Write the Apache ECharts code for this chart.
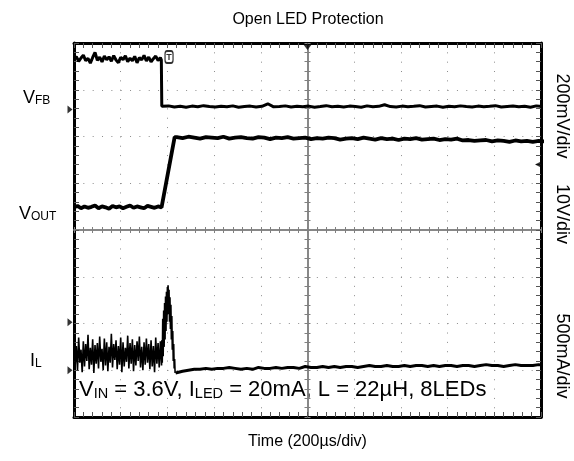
<!DOCTYPE html>
<html><head><meta charset="utf-8">
<script src="https://cdn.jsdelivr.net/npm/echarts@6/dist/echarts.min.js"></script>
<style>html,body{margin:0;padding:0;background:#fff}#c{width:574px;height:461px}</style>
</head><body><div id="c"></div>
<script>
const FONT = 'Liberation Sans, Arial, Helvetica, sans-serif';
// Time in µs, trigger at 0; screen spans 10 div x 200 µs/div
const timeMin = -1000, timeMax = 1000, timeDiv = 200;
// channel scales: units per division and ground-marker position (in divisions from centre)
const vfbPerDiv = 0.2,  vfbGroundDiv = 2.58;    // V
const voutPerDiv = 10,  voutGroundDiv = -1.975; // V
const ilPerDiv = 0.5,   ilGroundDiv = -3.0;     // A

// ---- V_FB (V) ----
const vfbHighStart = -1000, vfbHighStep = 10;
const vfbHigh = [0.214,0.226,0.205,0.220,0.232,0.209,0.218,0.198,0.222,0.244,
                 0.210,0.224,0.203,0.228,0.212,0.225,0.206,0.230,0.211,0.200,
                 0.223,0.213,0.229,0.204,0.219,0.208,0.227,0.199,0.221,0.212,
                 0.231,0.207,0.224,0.203,0.217,0.228,0.209,0.221];
const vfbEdge = [[-626,0.212],[-624,0.013]];
const vfbLowStart = -620, vfbLowStep = 25;
const vfbLow = [0.012,0.015,0.010,0.013,0.009,0.014,0.011,0.016,0.012,0.010,
                0.013,0.011,0.015,0.009,0.012,0.014,0.010,0.013,0.024,0.011,
                0.012,0.015,0.010,0.013,0.011,0.014,0.009,0.012,0.016,0.011,
                0.013,0.010,0.014,0.012,0.009,0.015,0.011,0.013,0.020,0.012,
                0.010,0.014,0.011,0.013,0.016,0.010,0.012,0.014,0.009,0.013,
                0.011,0.015,0.012,0.010,0.014,0.011,0.013,0.016,0.010,0.012,
                0.014,0.011,0.013,0.009,0.015,0.012];

// ---- V_OUT (V) ----
const voutLowStart = -1000, voutLowStep = 15;
const voutLow = [24.6,24.9,24.4,24.8,24.5,24.7,25.0,24.4,24.8,24.6,
                 24.3,24.9,24.6,24.8,24.4,24.7,25.0,24.5,24.8,24.6,
                 24.4,24.9,24.7,24.5,24.8,24.6];
const voutRamp = [[-620,25.0],[-569,39.6]];
const voutHighStart = -560, voutHighStep = 25;
const voutHigh = [39.6,39.4,39.7,39.5,39.3,39.6,39.5,39.4,39.7,39.3,
                  39.5,39.6,39.4,39.3,39.6,39.5,39.2,39.5,39.4,39.6,
                  39.3,39.4,39.5,39.2,39.4,39.3,39.5,39.4,39.1,39.3,
                  39.4,39.2,39.5,39.3,39.1,39.4,39.2,39.3,39.0,39.3,
                  39.2,39.4,39.1,39.2,39.3,39.0,39.2,39.1,39.3,38.9,
                  39.0,38.8,38.9,39.0,38.7,38.9,38.8,38.6,38.9,38.7,
                  38.8,38.6,38.8,38.7];

// ---- I_L (A) ----
const ilRippleStart = -1000, ilRippleStep = 5;
const ilRipple = [0.30,0.05,0.26,0.00,0.35,0.08,0.22,-0.02,0.31,0.04,
                  0.28,0.10,0.38,0.01,0.24,0.06,0.33,-0.03,0.27,0.07,
                  0.29,0.02,0.36,0.09,0.23,0.00,0.34,0.05,0.30,-0.01,
                  0.25,0.08,0.39,0.03,0.28,0.11,0.32,0.01,0.26,0.06,
                  0.35,-0.02,0.30,0.04,0.24,0.09,0.37,0.02,0.29,0.07,
                  0.33,-0.01,0.27,0.05,0.31,0.10,0.36,0.03,0.25,0.00,
                  0.30,0.06,0.34,0.08,0.28,0.01,0.32,0.04,0.26,-0.02,
                  0.35,0.07,0.29,0.03,0.31,0.05];
const ilSpike = [[-624,0.32],[-622,0.08],[-620,0.55],[-618,0.15],[-616,0.64],[-614,0.25],
                 [-612,0.72],[-610,0.33],[-608,0.79],[-606,0.42],[-604,0.84],[-602,0.52],
                 [-600,0.89],[-598,0.62],[-597,0.91],[-595,0.60],[-593,0.86],[-591,0.52],
                 [-589,0.78],[-587,0.44],[-585,0.70],[-583,0.33],[-581,0.58],[-579,0.22],
                 [-577,0.42],[-575,0.10],[-573,0.28],[-571,0.02],[-569,0.12],[-567,-0.03],[-565,-0.03]];
const ilAfterStart = -560, ilAfterStep = 25;
const ilAfter = [-0.03,-0.01,0.00,0.01,0.01,0.02,0.01,0.02,0.02,0.03,
                 0.02,0.01,0.02,0.01,0.03,0.02,0.02,0.03,0.02,0.03,
                 0.03,0.02,0.04,0.03,0.03,0.04,0.03,0.04,0.03,0.04,
                 0.04,0.03,0.04,0.05,0.04,0.04,0.05,0.04,0.04,0.05,
                 0.04,0.05,0.05,0.04,0.05,0.04,0.05,0.05,0.04,0.05,
                 0.05,0.04,0.05,0.06,0.05,0.05,0.04,0.05,0.06,0.05,
                 0.05,0.05,0.06,0.05];

// markers
const triggerTime = 0;
const triggerMarkTime = -593;
const triggerLevelDiv = 1.40;

function seg(start, step, vals){ return vals.map((v,i)=>[start+i*step, v]); }
const vfbData = seg(vfbHighStart,vfbHighStep,vfbHigh).concat(vfbEdge, seg(vfbLowStart,vfbLowStep,vfbLow));
const voutData = seg(voutLowStart,voutLowStep,voutLow).concat(voutRamp, seg(voutHighStart,voutHighStep,voutHigh));
const ilData1 = seg(ilRippleStart,ilRippleStep,ilRipple).concat(ilSpike);
const ilData2 = [ilSpike[ilSpike.length-1]].concat(seg(ilAfterStart,ilAfterStep,ilAfter));

const GRID_DOT = {color:'#8c8c8c', width:1, type:[1, 8.34]};
const BORDER = {color:'#000', width:3};
const TICKC = {color:'#555', width:1};
const CENTER = {color:'#808080', width:1.5};

function borderX(pos, extra){
  return Object.assign({type:'value', min:timeMin, max:timeMax, interval:timeDiv, position:pos,
    axisLine:{show:true, onZero:false, lineStyle:BORDER},
    axisTick:{show:true, inside:true, length:5, lineStyle:TICKC},
    minorTick:{show:true, splitNumber:5, length:5, lineStyle:TICKC},
    axisLabel:{show:false}, splitLine:{show:false}}, extra||{});
}
function centerX(inside){
  return {type:'value', min:timeMin, max:timeMax, interval:timeDiv, position:'bottom',
    axisLine:{show:true, onZero:true, onZeroAxisIndex:0, lineStyle:CENTER},
    axisTick:{show:true, inside:inside, length:3, lineStyle:{color:'#808080'}},
    minorTick:{show:true, splitNumber:5, length:3, lineStyle:{color:'#808080'}},
    axisLabel:{show:false}, splitLine:{show:false}};
}
function borderY(pos, extra){
  return Object.assign({type:'value', min:-4, max:4, interval:1, position:pos,
    axisLine:{show:true, onZero:false, lineStyle:BORDER},
    axisTick:{show:true, inside:true, length:5, lineStyle:TICKC},
    minorTick:{show:true, splitNumber:5, length:5, lineStyle:TICKC},
    axisLabel:{show:false}, splitLine:{show:false}}, extra||{});
}
function centerY(inside){
  return {type:'value', min:-4, max:4, interval:1, position:'left',
    axisLine:{show:true, onZero:true, onZeroAxisIndex:0, lineStyle:CENTER},
    axisTick:{show:true, inside:inside, length:3, lineStyle:{color:'#808080'}},
    minorTick:{show:true, splitNumber:5, length:3, lineStyle:{color:'#808080'}},
    axisLabel:{show:false}, splitLine:{show:false}};
}
function hiddenY(perDiv, groundDiv){
  return {type:'value', show:false, min:(-4-groundDiv)*perDiv, max:(4-groundDiv)*perDiv,
    axisLine:{onZero:false}, splitLine:{show:false}};
}

const rich = {
  m:{fontSize:18, fontFamily:FONT, color:'#000', lineHeight:20, verticalAlign:'bottom'},
  s:{fontSize:12, fontFamily:FONT, color:'#000', lineHeight:13, verticalAlign:'bottom'},
  am:{fontSize:22, fontFamily:FONT, color:'#000', lineHeight:24, verticalAlign:'bottom'},
  as:{fontSize:14.5, fontFamily:FONT, color:'#000', lineHeight:16, verticalAlign:'bottom'}
};

const option = {
  animation:false,
  backgroundColor:'#fff',
  title:{text:'Open LED Protection', left:308, top:12, textAlign:'center', padding:0,
    textStyle:{fontSize:16, fontWeight:'normal', color:'#000', fontFamily:FONT}},
  grid:{left:74, right:33, top:43, bottom:44, containLabel:false},
  xAxis:[
    borderX('bottom', {splitLine:{show:true, lineStyle:GRID_DOT},
      name:'Time (200µs/div)', nameLocation:'middle', nameGap:17,
      nameTextStyle:{fontSize:16, color:'#000', fontFamily:FONT}}),
    borderX('top'),
    centerX(true),
    centerX(false)
  ],
  yAxis:[
    borderY('left', {splitLine:{show:true, lineStyle:GRID_DOT}}),
    borderY('right'),
    centerY(true),
    centerY(false),
    hiddenY(vfbPerDiv, vfbGroundDiv),
    hiddenY(voutPerDiv, voutGroundDiv),
    hiddenY(ilPerDiv, ilGroundDiv)
  ],
  series:[
    {name:'V_FB', type:'line', xAxisIndex:0, yAxisIndex:4, data:vfbData, symbol:'none',
     lineStyle:{color:'#000', width:3}, z:4},
    {name:'V_OUT', type:'line', xAxisIndex:0, yAxisIndex:5, data:voutData, symbol:'none',
     lineStyle:{color:'#000', width:3.8}, z:4},
    {name:'I_L', type:'line', xAxisIndex:0, yAxisIndex:6, data:ilData1, symbol:'none',
     lineStyle:{color:'#000', width:1.6}, z:4},
    {name:'I_L', type:'line', xAxisIndex:0, yAxisIndex:6, data:ilData2, symbol:'none',
     lineStyle:{color:'#000', width:3}, z:4},
    // ground markers
    {type:'scatter', xAxisIndex:0, yAxisIndex:4, data:[[timeMin,0]], symbol:'triangle', symbolRotate:-90,
     symbolSize:[8,5], symbolOffset:[-4,0], itemStyle:{color:'#000'}, clip:false, silent:true, z:6},
    {type:'scatter', xAxisIndex:0, yAxisIndex:5, data:[[timeMin,0]], symbol:'triangle', symbolRotate:-90,
     symbolSize:[8,5], symbolOffset:[-4,0], itemStyle:{color:'#000'}, clip:false, silent:true, z:6},
    {type:'scatter', xAxisIndex:0, yAxisIndex:6, data:[[timeMin,0]], symbol:'triangle', symbolRotate:-90,
     symbolSize:[8,5], symbolOffset:[-4,0], itemStyle:{color:'#000'}, clip:false, silent:true, z:6},
    // trigger position (top)
    {type:'scatter', xAxisIndex:0, yAxisIndex:0, data:[[triggerTime,4]], symbol:'triangle', symbolRotate:180,
     symbolSize:[9,6], symbolOffset:[0,4], itemStyle:{color:'#000'}, clip:false, silent:true, z:6},
    // trigger mark "T"
    {type:'scatter', xAxisIndex:0, yAxisIndex:0, data:[[triggerMarkTime,3.70]], symbol:'roundRect',
     symbolSize:[8,12], itemStyle:{color:'#fff', borderColor:'#000', borderWidth:1.5}, clip:false, silent:true, z:6,
     label:{show:true, position:'inside', formatter:'T', fontSize:9, fontWeight:'bold', color:'#000', fontFamily:FONT}},
    // trigger level (right)
    {type:'scatter', xAxisIndex:0, yAxisIndex:0, data:[[timeMax,triggerLevelDiv]], symbol:'arrow', symbolRotate:90,
     symbolSize:[6,8], symbolOffset:[-6,0], itemStyle:{color:'#000'}, clip:false, silent:true, z:6}
  ],
  graphic:[
    {type:'text', x:23, y:97, style:{text:'{m|V}{s|FB}', rich:rich, verticalAlign:'middle', align:'left'}},
    {type:'text', x:19, y:213, style:{text:'{m|V}{s|OUT}', rich:rich, verticalAlign:'middle', align:'left'}},
    {type:'text', x:30, y:360, style:{text:'{m|I}{s|L}', rich:rich, verticalAlign:'middle', align:'left'}},
    {type:'text', x:79, y:389, style:{text:'{am|V}{as|IN}{am| = 3.6V, I}{as|LED}{am| = 20mA, L = 22µH, 8LEDs}', rich:rich, verticalAlign:'middle', align:'left'}},
    {type:'text', x:562, y:116, rotation:-Math.PI/2, style:{text:'200mV/div', fontSize:18, fontFamily:FONT, fill:'#000', align:'center', verticalAlign:'middle'}},
    {type:'text', x:562, y:214, rotation:-Math.PI/2, style:{text:'10V/div', fontSize:18, fontFamily:FONT, fill:'#000', align:'center', verticalAlign:'middle'}},
    {type:'text', x:562, y:356, rotation:-Math.PI/2, style:{text:'500mA/div', fontSize:18, fontFamily:FONT, fill:'#000', align:'center', verticalAlign:'middle'}}
  ]
};
const chart = echarts.init(document.getElementById('c'));
chart.setOption(option);
</script>
</body></html>
